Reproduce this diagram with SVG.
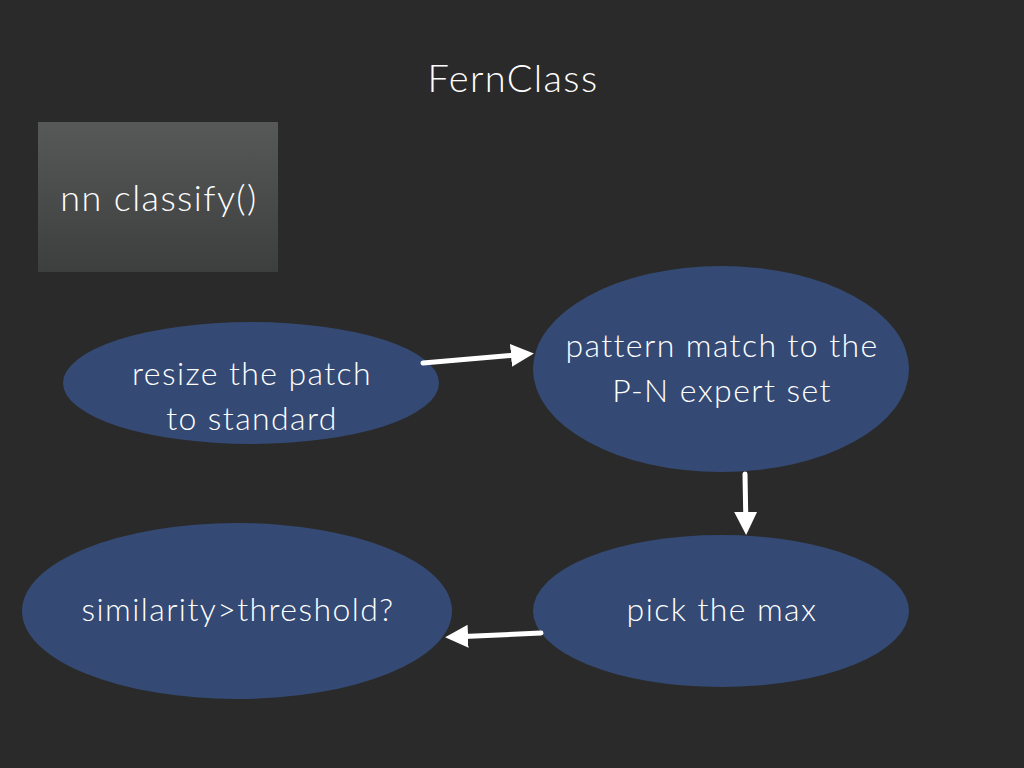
<svg xmlns="http://www.w3.org/2000/svg" width="1024" height="768" viewBox="0 0 1024 768">
<defs>
<linearGradient id="boxg" x1="0" y1="0" x2="0" y2="1">
<stop offset="0" stop-color="#575858"/>
<stop offset="1" stop-color="#3d3f3f"/>
</linearGradient>
<marker id="ah" viewBox="0 0 10 10" refX="7" refY="5" markerWidth="4.6" markerHeight="4.6" orient="auto" markerUnits="strokeWidth">
<path d="M0,0 L10,5 L0,10 Z" fill="#ffffff"/>
</marker>
<style>
text{font-family:Lato,"Open Sans","Liberation Sans",sans-serif;fill:#ffffff;text-anchor:middle;font-weight:300;letter-spacing:1.4px}
.node{fill:#344a74}
.conn{stroke:#ffffff;stroke-width:5;fill:none;stroke-linecap:round;marker-end:url(#ah)}
</style>
</defs>
<rect width="1024" height="768" fill="#2a2a2a"/>
<text x="513" y="92" font-size="38">FernClass</text>
<g id="box">
<rect x="38" y="122" width="240" height="150" fill="url(#boxg)"/>
<text x="159" y="211" font-size="36">nn classify()</text>
</g>
<g id="resize">
<ellipse class="node" cx="251" cy="383" rx="188" ry="61"/>
<text x="252" y="385" font-size="32">resize the patch</text>
<text x="252" y="430" font-size="32">to standard</text>
</g>
<g id="pattern">
<ellipse class="node" cx="721" cy="369" rx="188" ry="103"/>
<text x="722" y="357" font-size="32">pattern match to the</text>
<text x="722" y="402" font-size="32">P-N expert set</text>
</g>
<g id="pick">
<ellipse class="node" cx="721" cy="611" rx="188" ry="76"/>
<text x="722" y="621" font-size="32">pick the max</text>
</g>
<g id="similarity">
<ellipse class="node" cx="237" cy="611" rx="215" ry="88"/>
<text x="238" y="621" font-size="32">similarity&gt;threshold?</text>
</g>
<g id="connectors">
<path class="conn" d="M423,363 L527,354"/>
<path class="conn" d="M745,474 L746,528"/>
<path class="conn" d="M541,633 L452,637"/>
</g>
</svg>
